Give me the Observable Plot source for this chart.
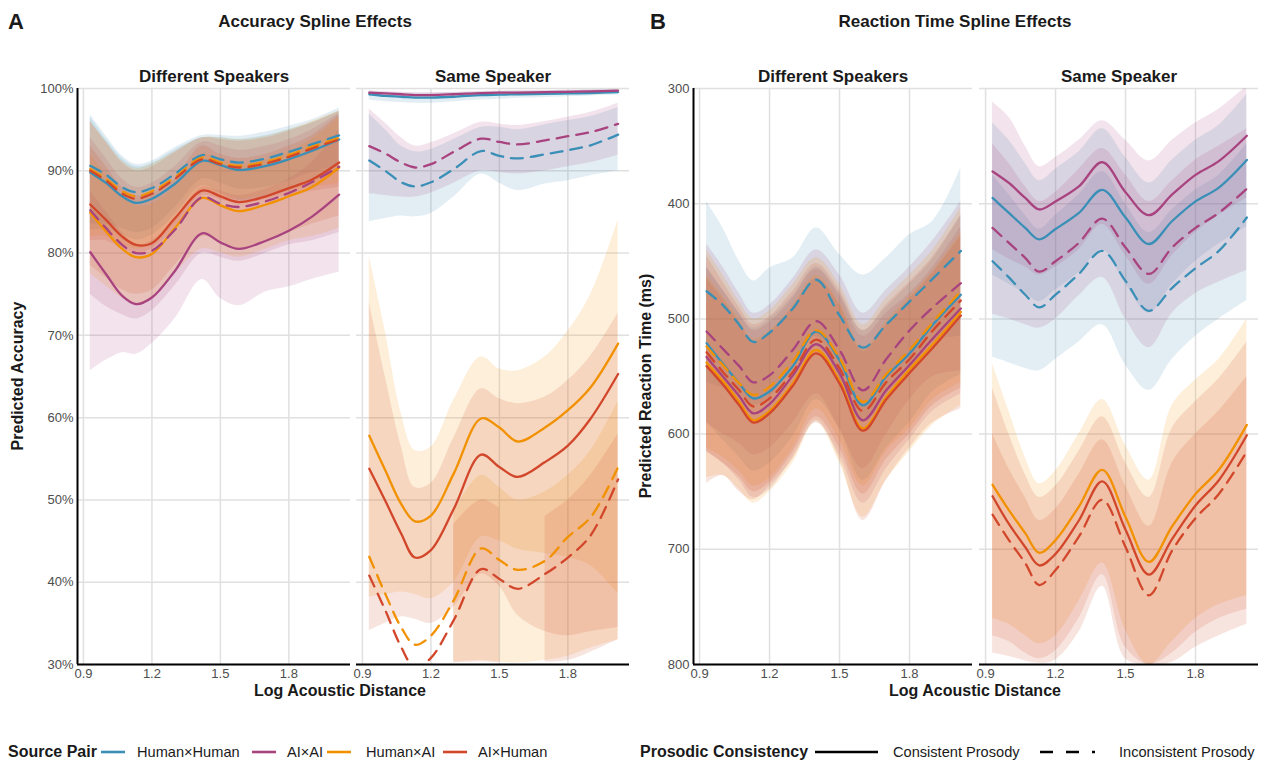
<!DOCTYPE html>
<html><head><meta charset="utf-8">
<script src="https://cdn.jsdelivr.net/npm/d3@7"></script>
<script src="https://cdn.jsdelivr.net/npm/@observablehq/plot@0.6"></script>
<style>
body{margin:0;background:#fff;font-family:'Liberation Sans',Arial,Helvetica,sans-serif;}
#root{position:relative;width:1274px;height:761px;overflow:hidden;background:#fff;}
.t{position:absolute;white-space:nowrap;color:#1a1a1a;line-height:1;}
.p{position:absolute;top:0;}
</style></head><body><div id="root"></div>
<script>
// ---------- categories ----------
const pairs = ["Human×Human", "AI×AI", "Human×AI", "AI×Human"];
const pairColors = ["#3A8FB7", "#A8437F", "#F29100", "#D2472B"];
const facets = ["Different Speakers", "Same Speaker"];
// series order: HH-C, HH-I, AA-C, AA-I, HA-C, HA-I, AH-C, AH-I
const seriesPair = ["Human×Human","Human×Human","AI×AI","AI×AI","Human×AI","Human×AI","AI×Human","AI×Human"];
const seriesProsody = ["Consistent","Inconsistent","Consistent","Inconsistent","Consistent","Inconsistent","Consistent","Inconsistent"];
const xTicks = [0.9, 1.2, 1.5, 1.8];
const accTicks = [30, 40, 50, 60, 70, 80, 90, 100];
const rtTicks = [300, 400, 500, 600, 700, 800];
const xAcc = [0.93, 1.0, 1.07, 1.13, 1.2, 1.3, 1.42, 1.5, 1.58, 1.7, 1.8, 1.9, 2.02];
const xRT  = [0.93, 1.0, 1.07, 1.13, 1.2, 1.3, 1.4, 1.5, 1.6, 1.7, 1.8, 1.9, 2.02];

// ---------- Accuracy, Different Speakers (%) ----------
const accDiffEst = [
  [89.8, 88.5, 86.9, 86.1, 86.6, 88.4, 91.2, 90.7, 90.1, 90.6, 91.4, 92.4, 93.8],
  [90.6, 89.5, 88.0, 87.4, 87.9, 89.6, 91.9, 91.4, 91.0, 91.5, 92.3, 93.2, 94.3],
  [80.1, 77.4, 74.8, 73.8, 74.6, 77.8, 82.4, 81.3, 80.5, 81.5, 82.7, 84.4, 87.1],
  [85.2, 83.0, 81.0, 80.0, 80.3, 82.8, 86.8, 86.0, 85.6, 86.3, 87.3, 88.6, 90.5],
  [84.9, 82.6, 80.5, 79.5, 79.9, 83.0, 86.7, 85.8, 85.1, 85.9, 86.9, 88.0, 90.4],
  [90.2, 89.0, 87.5, 86.9, 87.5, 89.2, 91.6, 91.0, 90.6, 91.1, 91.9, 92.9, 94.0],
  [85.9, 84.0, 82.0, 81.0, 81.2, 84.2, 87.6, 86.9, 86.2, 86.9, 87.9, 88.9, 91.0],
  [90.0, 88.8, 87.2, 86.6, 87.2, 89.0, 91.4, 90.8, 90.4, 90.9, 91.7, 92.7, 93.8]
];
const accDiffLo = [
  [82.8, 82.9, 82.2, 81.6, 82.2, 84.6, 88.2, 87.3, 86.4, 86.8, 87.6, 88.6, 90.0],
  [83.5, 83.5, 83.0, 82.5, 83.0, 85.5, 89.0, 88.5, 87.8, 88.0, 88.8, 89.8, 90.5],
  [65.7, 67.0, 67.9, 67.7, 69.0, 72.0, 76.8, 74.5, 73.6, 75.3, 75.9, 76.8, 77.7],
  [75.0, 73.5, 72.5, 72.0, 73.0, 76.0, 80.0, 79.5, 79.0, 80.0, 81.0, 81.5, 82.5],
  [77.5, 76.0, 74.5, 73.8, 74.5, 77.5, 80.5, 80.0, 79.5, 80.5, 81.5, 82.0, 83.0],
  [82.0, 82.0, 81.0, 80.5, 81.0, 83.5, 87.5, 87.0, 86.5, 87.0, 87.5, 88.0, 88.5],
  [78.5, 77.0, 75.5, 75.0, 75.5, 78.5, 82.0, 81.5, 80.5, 81.5, 82.5, 83.5, 84.5],
  [81.5, 81.5, 80.5, 80.0, 80.5, 83.0, 87.0, 86.5, 86.0, 86.5, 87.0, 87.5, 88.0]
];
const accDiffHi = [
  [96.5, 93.8, 91.5, 90.5, 90.9, 92.5, 94.0, 94.0, 93.8, 94.3, 95.0, 95.8, 97.2],
  [96.8, 94.2, 91.8, 90.8, 91.2, 92.8, 94.3, 94.3, 94.2, 94.7, 95.4, 96.2, 97.6],
  [87.5, 85.0, 82.5, 81.0, 81.5, 84.0, 88.0, 87.5, 87.0, 87.8, 89.0, 91.0, 95.0],
  [94.0, 91.5, 89.0, 88.0, 88.5, 90.5, 93.5, 93.0, 92.5, 93.0, 93.8, 95.0, 97.0],
  [92.0, 89.5, 87.0, 85.8, 86.0, 88.0, 92.0, 91.5, 90.8, 91.3, 92.3, 93.8, 96.5],
  [96.0, 93.5, 91.2, 90.3, 90.8, 92.3, 94.0, 94.0, 93.8, 94.2, 95.0, 96.0, 97.3],
  [93.0, 90.5, 88.0, 87.0, 87.2, 89.0, 93.0, 92.0, 91.5, 92.0, 93.0, 94.3, 96.8],
  [96.0, 93.5, 91.0, 90.0, 90.5, 92.2, 94.0, 93.8, 93.6, 94.0, 94.8, 95.8, 97.2]
];

// ---------- Accuracy, Same Speaker (%) ----------
const accSameEst = [
  [99.3, 99.1, 99.0, 98.9, 98.9, 99.0, 99.2, 99.25, 99.3, 99.35, 99.4, 99.45, 99.55],
  [91.25, 90.0, 88.6, 88.1, 88.6, 90.2, 92.4, 91.8, 91.5, 92.0, 92.5, 93.1, 94.4],
  [99.5, 99.4, 99.3, 99.2, 99.2, 99.3, 99.45, 99.5, 99.5, 99.55, 99.6, 99.65, 99.75],
  [93.0, 92.1, 91.0, 90.4, 90.8, 92.3, 93.9, 93.5, 93.2, 93.7, 94.2, 94.7, 95.7],
  [57.8, 53.6, 49.5, 47.4, 48.1, 53.2, 59.9, 58.8, 57.1, 58.8, 60.9, 63.7, 69.0],
  [43.1, 38.6, 34.5, 32.4, 33.5, 37.8, 44.1, 42.7, 41.5, 42.6, 45.5, 47.9, 54.0],
  [53.8, 49.9, 45.9, 43.0, 43.9, 48.9, 55.5, 54.0, 52.8, 54.6, 56.6, 59.9, 65.3],
  [40.8, 36.6, 32.1, 29.6, 30.8, 35.4, 41.6, 40.4, 39.2, 41.0, 43.0, 45.7, 52.5]
];
const accSameLo = [
  [98.6, 98.4, 98.3, 98.2, 98.2, 98.4, 98.6, 98.7, 98.8, 98.9, 99.0, 99.1, 99.2],
  [83.8, 84.2, 84.5, 84.4, 84.8, 86.8, 89.6, 88.5, 87.6, 88.4, 88.8, 89.4, 90.0],
  [99.25, 99.15, 99.0, 98.9, 98.9, 99.0, 99.2, 99.25, 99.3, 99.35, 99.4, 99.45, 99.55],
  [87.2, 87.0, 86.8, 86.8, 87.3, 88.5, 90.0, 89.8, 89.6, 90.0, 90.5, 91.0, 91.9],
  [38.2, 38.5, 38.8, 38.5, 38.0, 40.0, 45.5, 45.0, 44.0, 43.5, 43.0, 42.0, 38.6],
  [null, null, null, null, null, 30.3, 30.5, 30.3, 30.2, 30.5, 31.0, 32.0, 33.0],
  [34.1, 35.0, 35.8, 35.5, 35.0, 37.0, 41.0, 39.5, 36.0, 34.0, 33.5, 34.0, 34.5],
  [null, null, null, null, null, 30.2, 30.3, 30.2, null, 30.3, 30.5, 31.5, 33.0]
];
const accSameHi = [
  [99.7, 99.55, 99.45, 99.4, 99.4, 99.5, 99.6, 99.65, 99.7, 99.7, 99.75, 99.8, 99.85],
  [96.9, 95.0, 93.0, 92.3, 92.6, 93.8, 95.3, 95.3, 95.0, 95.6, 96.1, 96.6, 97.7],
  [99.7, 99.65, 99.55, 99.5, 99.5, 99.55, 99.65, 99.7, 99.7, 99.75, 99.8, 99.85, 99.9],
  [97.5, 95.8, 94.0, 93.0, 93.4, 94.5, 95.9, 95.7, 95.5, 96.0, 96.5, 97.1, 98.2],
  [79.6, 70.5, 60.5, 56.0, 56.4, 62.1, 67.4, 65.9, 65.7, 67.4, 70.5, 75.0, 84.0],
  [null, null, null, null, null, 48.5, 53.0, 51.5, 50.0, 51.0, 53.0, 56.0, 62.0],
  [74.0, 65.0, 56.5, 51.5, 52.0, 57.5, 63.5, 62.3, 61.7, 62.5, 64.5, 67.5, 72.7],
  [null, null, null, null, null, 47.0, 50.0, 49.0, null, 48.0, 50.0, 53.0, 58.0]
];

// ---------- Reaction time, Different Speakers (ms) ----------
const rtDiffEst = [
  [521, 539, 556, 569, 563, 541, 511, 536, 575, 550, 530, 505, 479],
  [476, 488, 505, 520, 512, 491, 466, 497, 525, 505, 485, 465, 441],
  [533, 550, 567, 582, 574, 549, 522, 547, 588, 562, 540, 517, 491],
  [511, 526, 541, 555, 549, 527, 502, 527, 562, 535, 510, 490, 469],
  [538, 554, 572, 588, 580, 556, 527, 554, 595, 568, 544, 522, 494],
  [524, 540, 556, 566, 559, 537, 510, 534, 572, 548, 527, 503, 476],
  [541, 557, 575, 590, 582, 558, 530, 556, 597, 570, 547, 525, 497],
  [529, 546, 562, 576, 569, 546, 518, 543, 580, 555, 535, 510, 484]
];
const rtDiffLo = [
  [455, 475, 495, 508, 500, 480, 455, 478, 510, 490, 470, 448, 410],
  [398, 421, 450, 467, 456, 447, 421, 444, 462, 447, 427, 415, 369],
  [455, 475, 495, 510, 503, 482, 457, 480, 515, 495, 478, 455, 420],
  [435, 455, 478, 495, 488, 465, 440, 462, 495, 475, 455, 432, 398],
  [462, 480, 500, 517, 510, 488, 462, 485, 525, 502, 480, 458, 425],
  [440, 462, 485, 500, 493, 470, 447, 470, 505, 482, 462, 440, 403],
  [465, 483, 503, 520, 512, 490, 465, 488, 528, 505, 483, 460, 428],
  [445, 468, 490, 505, 498, 476, 452, 475, 510, 488, 468, 446, 410]
];
const rtDiffHi = [
  [590, 605, 620, 632, 625, 602, 570, 596, 640, 612, 590, 563, 548],
  [555, 560, 565, 575, 568, 540, 515, 555, 590, 565, 540, 520, 515],
  [615, 625, 640, 655, 648, 620, 590, 618, 660, 630, 605, 580, 565],
  [590, 600, 608, 618, 612, 590, 565, 595, 630, 600, 570, 550, 545],
  [638, 636, 648, 660, 650, 625, 590, 625, 672, 640, 615, 592, 575],
  [612, 620, 632, 645, 638, 612, 578, 605, 645, 615, 595, 570, 555],
  [643, 636, 650, 657, 645, 622, 588, 622, 675, 640, 612, 590, 578],
  [615, 625, 637, 650, 642, 616, 585, 612, 652, 622, 600, 575, 560]
];

// ---------- Reaction time, Same Speaker (ms) ----------
const rtSameEst = [
  [395, 408, 421, 431, 422, 408, 388, 412, 435, 415, 398, 386, 362],
  [450, 464, 479, 490, 479, 461, 441, 467, 493, 473, 456, 441, 412],
  [372, 382, 395, 405, 398, 385, 364, 390, 410, 392, 375, 363, 341],
  [421, 434, 447, 459, 450, 434, 413, 438, 461, 438, 421, 408, 387],
  [644, 666, 686, 703, 692, 663, 631, 672, 711, 680, 652, 631, 592],
  null,
  [654, 678, 698, 714, 704, 675, 641, 683, 722, 691, 662, 640, 601],
  [670, 692, 712, 731, 718, 689, 657, 698, 740, 701, 673, 652, 615]
];
const rtSameLo = [
  [330, 345, 365, 380, 370, 355, 335, 360, 382, 362, 345, 332, 305],
  [375, 392, 410, 422, 410, 392, 372, 400, 425, 405, 388, 375, 348],
  [312, 325, 350, 368, 360, 345, 328, 345, 363, 345, 330, 318, 298],
  [348, 365, 385, 398, 390, 370, 352, 375, 398, 380, 362, 350, 335],
  [539, 580, 620, 643, 632, 600, 570, 610, 640, 575, 553, 535, 500],
  null,
  [560, 600, 635, 655, 645, 615, 585, 625, 655, 595, 572, 552, 520],
  [600, 630, 655, 675, 665, 635, 605, 645, 680, 625, 600, 580, 550]
];
const rtSameHi = [
  [462, 470, 478, 485, 475, 460, 440, 470, 495, 470, 450, 435, 420],
  [533, 538, 543, 545, 535, 520, 505, 540, 562, 535, 515, 500, 484],
  [440, 448, 455, 462, 455, 440, 418, 445, 470, 445, 425, 410, 395],
  [496, 500, 505, 508, 500, 480, 464, 500, 525, 495, 478, 468, 458],
  [760, 765, 775, 782, 775, 745, 712, 770, 800, 780, 760, 748, 740],
  null,
  [775, 780, 790, 795, 788, 760, 722, 785, 800, 790, 772, 760, 752],
  [790, 793, 797, 799, 796, 772, 732, 795, 800, 798, 785, 775, 765]
];

// ---------- build tables ----------
function rows(facet, xs, est, lo, hi) {
  const out = [];
  est.forEach((e, i) => {
    if (!e) return;
    xs.forEach((x, j) => out.push({
      facet, pair: seriesPair[i], prosody: seriesProsody[i], key: i,
      x, est: e[j], lo: lo[i][j], hi: hi[i][j]
    }));
  });
  return out;
}
const accData = rows(facets[0], xAcc, accDiffEst, accDiffLo, accDiffHi)
  .concat(rows(facets[1], xAcc, accSameEst, accSameLo, accSameHi));
const rtData = rows(facets[0], xRT, rtDiffEst, rtDiffLo, rtDiffHi)
  .concat(rows(facets[1], xRT, rtSameEst, rtSameLo, rtSameHi));

const FONT = "'Liberation Sans', Arial, Helvetica, sans-serif";
const X0 = 0.874, X1 = 2.07;

function panel({data, yDomain, reverse, yTicks, yFmt, yBottom, marginLeft, marginRight, padInner}) {
  const common = {fx: "facet", x: "x", z: "key", curve: "catmull-rom", clip: true};
  return Plot.plot({
    width: 637, height: 705,
    marginTop: 88, marginBottom: 41, marginLeft, marginRight,
    style: {fontFamily: FONT, fontSize: "13px", background: "transparent", overflow: "visible"},
    x: {domain: [X0, X1]},
    y: {domain: yDomain, reverse},
    fx: {domain: facets, paddingInner: padInner, paddingOuter: 0, round: false},
    color: {domain: pairs, range: pairColors},
    marks: [
      Plot.gridY(yTicks, {stroke: "#e0e0e0", strokeOpacity: 1, strokeWidth: 1.5}),
      Plot.gridX(xTicks, {stroke: "#e0e0e0", strokeOpacity: 1, strokeWidth: 1.5}),
      Plot.areaY(data, {...common, y1: "lo", y2: "hi", fill: "pair", fillOpacity: 0.15}),
      Plot.line(data.filter(d => d.prosody === "Consistent"),
        {...common, y: "est", stroke: "pair", strokeWidth: 2.3}),
      Plot.line(data.filter(d => d.prosody === "Inconsistent"),
        {...common, y: "est", stroke: "pair", strokeWidth: 2.3, strokeDasharray: "12,8"}),
      Plot.ruleY([yBottom], {stroke: "#000", strokeWidth: 2}),
      Plot.ruleX([facets[0]], {fx: d => d, x: () => X0, stroke: "#000", strokeWidth: 2}),
      Plot.axisX(xTicks, {tickSize: 0, tickPadding: 4, tickFormat: d3.format(".1f"), label: null, fontSize: 13, color: "#4d4d4d"}),
      Plot.axisY(yTicks, {tickSize: 0, tickPadding: 4, tickFormat: yFmt, label: null, fontSize: 13, color: "#4d4d4d"}),
      Plot.axisFx({anchor: "top", label: null, tickSize: 0, tickPadding: 7, fontSize: 17, fontWeight: "bold", color: "#1a1a1a"})
    ]
  });
}

const root = document.getElementById("root");
const pa = panel({data: accData, yDomain: [30, 100], reverse: false, yTicks: accTicks,
  yFmt: d => d + "%", yBottom: 30, marginLeft: 77, marginRight: 8, padInner: 6 / 279});
const pb = panel({data: rtData, yDomain: [300, 800], reverse: true, yTicks: rtTicks,
  yFmt: d => String(d), yBottom: 800, marginLeft: 56, marginRight: 16, padInner: 7 / 286});
const wa = document.createElement("div"); wa.className = "p"; wa.style.left = "0px"; wa.appendChild(pa); root.appendChild(wa);
const wb = document.createElement("div"); wb.className = "p"; wb.style.left = "637px"; wb.appendChild(pb); root.appendChild(wb);

function label(text, x, y, size, bold, rotate) {
  const d = document.createElement("div");
  d.className = "t";
  d.textContent = text;
  d.style.left = x + "px"; d.style.top = y + "px";
  d.style.fontSize = size + "px";
  d.style.fontWeight = bold ? "bold" : "normal";
  d.style.transform = "translate(-50%,-50%)" + (rotate ? " rotate(-90deg)" : "");
  root.appendChild(d);
}
label("A", 16, 22, 22, true);
label("Accuracy Spline Effects", 315, 21, 17, true);
label("B", 658, 22, 22, true);
label("Reaction Time Spline Effects", 955, 21, 17, true);
label("Predicted Accuracy", 18, 376, 16, true, true);
label("Predicted Reaction Time (ms)", 646, 386, 16, true, true);
label("Log Acoustic Distance", 340, 691, 16, true);
label("Log Acoustic Distance", 975, 691, 16, true);

// ---------- legends ----------
function leftLabel(text, x, y, size, bold) {
  const d = document.createElement("div");
  d.className = "t"; d.textContent = text;
  d.style.left = x + "px"; d.style.top = y + "px";
  d.style.fontSize = size + "px"; d.style.fontWeight = bold ? "bold" : "normal";
  d.style.transform = "translateY(-50%)";
  root.appendChild(d);
}
function swatch(x, y, w, color, dash) {
  const ns = "http://www.w3.org/2000/svg";
  const s = document.createElementNS(ns, "svg");
  s.setAttribute("width", w); s.setAttribute("height", 8);
  s.style.position = "absolute"; s.style.left = x + "px"; s.style.top = (y - 4) + "px";
  const l = document.createElementNS(ns, "line");
  l.setAttribute("x1", 0); l.setAttribute("x2", w); l.setAttribute("y1", 4); l.setAttribute("y2", 4);
  l.setAttribute("stroke", color); l.setAttribute("stroke-width", 2.6);
  if (dash) l.setAttribute("stroke-dasharray", dash);
  s.appendChild(l); root.appendChild(s);
}
const LY = 752;
leftLabel("Source Pair", 8, LY, 16, true);
const swX = [101, 252, 327, 443], txX = [137, 287, 366, 478];
pairs.forEach((p, i) => { swatch(swX[i], LY, 24, pairColors[i]); leftLabel(p, txX[i], LY, 14.6, false); });
leftLabel("Prosodic Consistency", 640, LY, 16, true);
swatch(815, LY, 63, "#000");
leftLabel("Consistent Prosody", 893, LY, 14.6, false);
swatch(1040, LY, 55, "#000", "13,13");
leftLabel("Inconsistent Prosody", 1119, LY, 14.6, false);
</script></body></html>
